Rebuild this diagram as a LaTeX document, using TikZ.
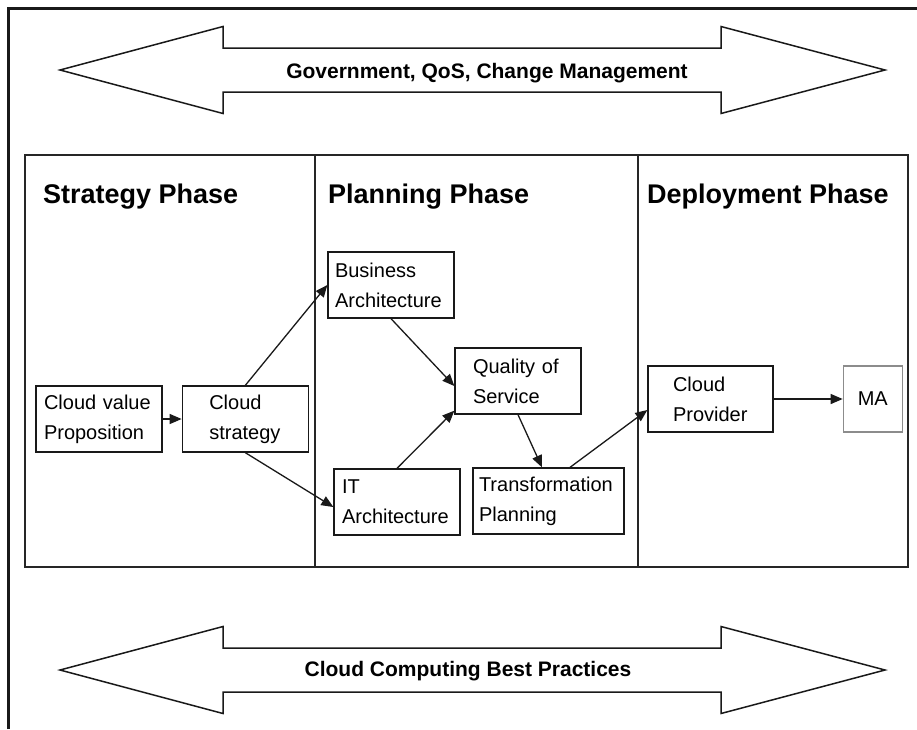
\documentclass[tikz,border=0pt]{standalone}
\usepackage{fontspec}
\setmainfont{Liberation Sans}
\usetikzlibrary{
  arrows.meta,
  positioning,  % Function "of" (e.g. [right=of x])
}
\def\myboxh{66pt}
\def\mygap{19pt}
\tikzset{
  font=\fontsize{20}{30}\selectfont,
  >={Triangle[length=12pt,width=10pt]},
  my line/.style={
    line width=1.3pt,
    draw=black!90
  },
  % box: text width and left padding
  my box/.style 2 args={
    my line,
    minimum height=\myboxh,
    inner ysep=0pt,
    align=left,
    text width=#1,
    inner xsep=#2
  },
  my box light/.style={
    my line,
    draw=black!45,
    minimum height=\myboxh,
    minimum width=59pt,
    align=center
  },
  phase title/.style={
    anchor=base west,
    inner sep=0pt,
    font=\fontsize{27}{30}\bfseries
  },
  banner text/.style={
    anchor=base,
    inner sep=0pt,
    font=\fontsize{21}{25}\bfseries
  },
  banner/.style={
    line width=1.5pt,
    draw=black!90,
    line join=miter
  },
  frame/.style={
    line width=3pt,
    draw=black!90
  },
  phase frame/.style={
    line width=2pt,
    draw=black!85
  }
}

\begin{document}
\begin{tikzpicture}[x=1pt,y=-1pt]
\useasboundingbox (0,0) rectangle (917,729);
\draw[frame] (8,729) -- (8,8) -- (917,8);
% big arrows
\foreach \yc in {70,670}
  \draw[banner] (60,\yc) -- (223,\yc-43.5) -- (223,\yc-22) -- (721,\yc-22)
    -- (721,\yc-43.5) -- (885,\yc) -- (721,\yc+43.5) -- (721,\yc+22)
    -- (223,\yc+22) -- (223,\yc+43.5) -- cycle;
\node[banner text] (gov)  at (487,78)  {Government, QoS, Change Management};
\node[banner text] (best) at (468,676) {Cloud Computing Best Practices};
% phases
\draw[phase frame] (25,155) rectangle (908,567);
\draw[phase frame,line width=1.5pt] (315,155) -- (315,567)
                                    (638,155) -- (638,567);
\node[phase title] (strat)  at (43,203)  {Strategy Phase};
\node[phase title] (plan)   at (328,203) {Planning Phase};
\node[phase title] (deploy) at (647,203) {Deployment Phase};
% boxes
\node[my box={110pt}{8pt}]  (cvp) at (99,419)      {Cloud~value\\Proposition};
\node[my box={72pt}{27pt}]  (cs)  [right=\mygap of cvp] {Cloud\\strategy};
\node[my box={112pt}{7pt}]  (ba)  at (391,285)     {Business\\Architecture};
\node[my box={110pt}{8pt}]  (ita) at (397,502)     {IT\\Architecture};
\node[my box={90pt}{18pt}]  (qos) at (518,381)     {Quality~of\\Service};
\node[my box={139pt}{6pt}]  (tp)  at (548.5,501)   {Transformation\\Planning};
\node[my box={75pt}{25pt}]  (cp)  at (710.5,399)   {Cloud\\Provider};
\node[my box light]         (ma)  [right=69pt of cp] {MA};
% connectors
\draw[->,my line] (cvp) -- (cs);
\draw[->,my line] (cs.north) -- (ba.west);
\draw[->,my line] (cs.south) -- ([yshift=-5pt]ita.west);
\draw[->,my line] (ba.south) -- ([yshift=-5pt]qos.west);
\draw[->,my line] (ita.north) -- ([yshift=4pt]qos.south west);
\draw[->,my line] (qos.south) -- ([xshift=-6.5pt]tp.north);
\draw[->,my line] ([xshift=21.5pt]tp.north) -- ([yshift=-11pt]cp.west);
\draw[->,my line] (cp) -- (ma);
\end{tikzpicture}
\end{document}
